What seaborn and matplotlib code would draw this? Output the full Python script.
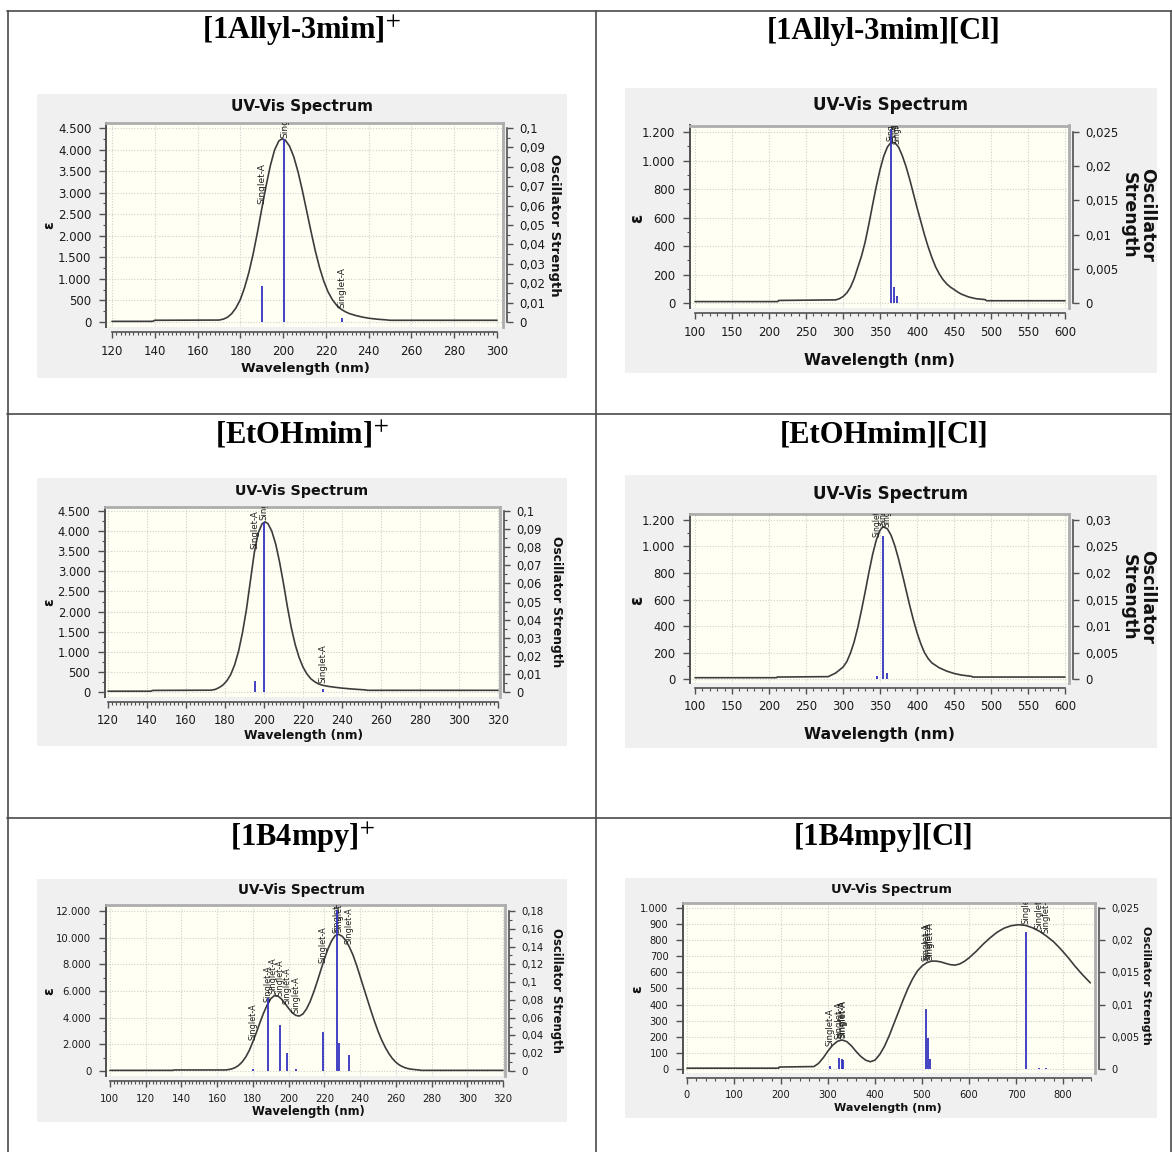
import numpy as np
import seaborn as sns
import matplotlib.pyplot as plt
from matplotlib import font_manager
from matplotlib.patches import Rectangle
from matplotlib.lines import Line2D
from matplotlib.ticker import FixedLocator, FuncFormatter, NullLocator

sns.set_theme(style='white')
plt.rcParams['font.family'] = ['DejaVu Sans']
plt.rcParams['mathtext.fontset'] = 'stix'

W, H = 1172, 1152

# ---------------- data ----------------
# [1Allyl-3mim]+
allyl_cat_wl = [120, 139, 140, 170, 172, 174, 176, 178, 180, 182, 184, 186, 188, 190, 192, 194, 196,
                198, 199.5, 201, 203, 205, 207, 209, 211, 213, 215, 217, 219, 221, 223, 225, 227,
                229, 231, 234, 237, 240, 244, 248, 250, 300]
allyl_cat_eps = [15, 15, 40, 45, 65, 110, 195, 330, 520, 800, 1150, 1580, 2080, 2620, 3150, 3620, 3990,
                 4200, 4250, 4220, 4080, 3830, 3480, 3050, 2580, 2110, 1660, 1270, 950, 700, 520, 390, 300,
                 240, 195, 150, 115, 88, 65, 50, 40, 40]
allyl_cat_stick_wl = [190.3, 200.6, 227.6]
allyl_cat_stick_f = [0.0188, 0.0943, 0.0022]

# [1Allyl-3mim][Cl]
allyl_cl_wl = [100, 212, 213, 290, 295, 300, 305, 310, 315, 320, 325, 330, 335, 340, 345, 350, 355,
               360, 365, 370, 375, 380, 385, 390, 395, 400, 405, 410, 415, 420, 425, 430, 435, 440,
               445, 450, 455, 460, 470, 480, 492, 494, 600]
allyl_cl_eps = [10, 10, 18, 22, 30, 45, 70, 110, 170, 250, 330, 430, 555, 690, 820, 935, 1030,
                1095, 1128, 1125, 1095, 1035, 960, 870, 770, 670, 575, 480, 395, 320, 255, 205, 165, 135,
                112, 95, 77, 62, 42, 30, 24, 16, 16]
allyl_cl_stick_wl = [364.5, 368.7, 373.6]
allyl_cl_stick_f = [0.0254, 0.0024, 0.001]

# [EtOHmim]+
etoh_cat_wl = [120, 142, 143, 173, 175, 177, 179, 181, 183, 185, 187, 189, 191, 193, 195, 197, 199,
               200.5, 202, 204, 206, 208, 210, 212, 214, 216, 218, 220, 222, 224, 226, 228, 230, 233,
               236, 240, 246, 252, 253, 320]
etoh_cat_eps = [20, 20, 40, 45, 65, 110, 175, 280, 440, 680, 1020, 1480, 2050, 2750, 3450, 3950, 4180,
                4230, 4190, 4000, 3680, 3230, 2700, 2120, 1600, 1180, 860, 620, 450, 330, 255, 200, 168, 140,
                120, 97, 72, 52, 42, 42]
etoh_cat_stick_wl = [195.2, 200.0, 230.1]
etoh_cat_stick_f = [0.0061, 0.0939, 0.0017]

# [EtOHmim][Cl]
etoh_cl_wl = [100, 210, 211, 280, 290, 300, 305, 310, 315, 320, 325, 330, 335, 340, 345, 350, 354,
              360, 365, 370, 375, 380, 385, 390, 395, 400, 405, 410, 415, 420, 430, 440, 450, 460,
              474, 475, 600]
etoh_cl_eps = [10, 10, 15, 18, 45, 90, 130, 195, 280, 390, 520, 660, 805, 940, 1050, 1122, 1150,
               1133, 1084, 1006, 907, 795, 676, 558, 448, 350, 268, 200, 155, 122, 85, 60, 42, 30,
               20, 15, 15]
etoh_cl_stick_wl = [345.5, 354.0, 360.0]
etoh_cl_stick_f = [0.0005, 0.0269, 0.00106]

# [1B4mpy]+
b4_cat_wl = [100, 135, 136, 165, 168, 170, 172, 174, 176, 178, 180, 182, 184, 186, 188, 190, 192, 194,
             196, 198, 200, 202, 204, 206, 208, 210, 212, 214, 216, 218, 220, 222, 224, 226, 228, 230,
             232, 234, 236, 238, 240, 242, 244, 246, 248, 250, 252, 254, 256, 258, 260, 262, 264, 266,
             268, 271, 273, 274, 320]
b4_cat_eps = [50, 50, 80, 80, 150, 250, 420, 680, 1050, 1550, 2200, 2900, 3650, 4350, 4950, 5420, 5650,
              5620, 5400, 5060, 4700, 4380, 4170, 4120, 4280, 4650, 5200, 5900, 6700, 7550, 8400, 9150,
              9750, 10150, 10250, 10100, 9780, 9300, 8700, 7950, 7100, 6250, 5400, 4550, 3750, 3000,
              2350, 1800, 1330, 950, 660, 450, 310, 210, 150, 100, 80, 50, 50]
b4_cat_stick_wl = [179.9, 188.4, 191.4, 195.4, 199.0, 204.3, 219.0, 227.3, 228.0, 233.6]
b4_cat_stick_f = [0.0019, 0.0818, 0.0005, 0.0515, 0.0205, 0.0019, 0.0441, 0.181, 0.031, 0.0179]

# [1B4mpy][Cl]
b4_cl_wl = [0, 195, 196, 270, 280, 290, 300, 310, 320, 330, 340, 350, 360, 370, 380, 390, 400, 410,
            420, 430, 440, 450, 460, 470, 480, 490, 500, 510, 520, 530, 540, 550, 560, 570, 580, 590,
            600, 615, 630, 645, 660, 675, 690, 705, 720, 735, 750, 765, 780, 795, 810, 825, 840, 858]
b4_cl_eps = [5, 5, 12, 15, 35, 70, 112, 148, 172, 180, 170, 143, 108, 77, 55, 45, 55, 90,
             140, 205, 280, 355, 430, 500, 560, 608, 640, 660, 670, 670, 665, 656, 648, 645, 652, 668,
             690, 730, 775, 815, 850, 875, 890, 896, 892, 877, 855, 825, 790, 745, 695, 640, 590, 535]
b4_cl_stick_wl = [304.4, 324.4, 329.6, 331.9, 508.9, 513.3, 517.0, 722.2, 748.0, 763.0]
b4_cl_stick_f = [0.0004, 0.00165, 0.0015, 0.0014, 0.00928, 0.00474, 0.0015, 0.0212, 0.0002, 0.0002]

cell_titles = [r'[1Allyl-3mim]$^{+}$', '[1Allyl-3mim][Cl]',
               r'[EtOHmim]$^{+}$', '[EtOHmim][Cl]',
               r'[1B4mpy]$^{+}$', '[1B4mpy][Cl]']

# ---------------- fonts ----------------
names = {f.name for f in font_manager.fontManager.ttflist}
if 'Liberation Sans Narrow' in names:
    NARROW, nk = 'Liberation Sans Narrow', 1.0
else:
    NARROW, nk = 'DejaVu Sans', 0.8
REG = 'DejaVu Sans'

sans = dict(font=REG, title=11, tick=8.5, xlab=9.5, rlab=9.5, eps=10, small=6.5)
narrow = dict(font=NARROW, title=15 * nk, tick=10.5 * nk, xlab=14 * nk, rlab=12.5, eps=12, small=5.5)

panels = [
    dict(wl=allyl_cat_wl, eps=allyl_cat_eps, swl=allyl_cat_stick_wl, sf=allyl_cat_stick_f,
         gray=(37, 94, 567, 378), area=(106, 122.5, 503, 327), xlim=(117.2, 302.8), ylim=(-116, 4628),
         xt=(120, 300, 20, 2), yt=(4500, 500, 250), ft=(0.1, 0.01, 0.005),
         title_y=107, xlab=(305, 368), epsl=(49, 225), rl=(555, 225), rtxt='Oscillator Strength',
         fs=sans),
    dict(wl=allyl_cl_wl, eps=allyl_cl_eps, swl=allyl_cl_stick_wl, sf=allyl_cl_stick_f,
         gray=(625, 88, 1157, 373), area=(690, 125.5, 1069, 308), xlim=(93.2, 605.4), ylim=(-35, 1245.6),
         xt=(100, 600, 50, 10), yt=(1200, 200, 100), ft=(0.025, 0.005, None),
         title_y=105, xlab=(880, 360), epsl=(637, 218), rl=(1138, 215), rtxt='Oscillator\nStrength',
         fs=narrow),
    dict(wl=etoh_cat_wl, eps=etoh_cat_eps, swl=etoh_cat_stick_wl, sf=etoh_cat_stick_f,
         gray=(37, 478, 567, 746), area=(105, 507, 500, 697), xlim=(118.5, 321), ylim=(-124, 4600),
         xt=(120, 320, 20, 2), yt=(4500, 500, 250), ft=(0.1, 0.01, 0.005),
         title_y=491, xlab=(304, 736), epsl=(49, 602), rl=(556, 602), rtxt='Oscillator Strength',
         fs=dict(sans, title=10.3, tick=8.3, xlab=8.8, rlab=8.8, small=6.2)),
    dict(wl=etoh_cl_wl, eps=etoh_cl_eps, swl=etoh_cl_stick_wl, sf=etoh_cl_stick_f,
         gray=(625, 475, 1157, 748), area=(690, 513.5, 1069, 683), xlim=(93.2, 605.4), ylim=(-30, 1249),
         xt=(100, 600, 50, 10), yt=(1200, 200, 100), ft=(0.03, 0.005, None),
         title_y=494, xlab=(880, 734), epsl=(637, 600), rl=(1138, 597), rtxt='Oscillator\nStrength',
         fs=narrow),
    dict(wl=b4_cat_wl, eps=b4_cat_eps, swl=b4_cat_stick_wl, sf=b4_cat_stick_f,
         gray=(37, 879, 567, 1122), area=(106, 904.5, 505, 1076), xlim=(97.8, 321.1), ylim=(-373, 12484),
         xt=(100, 320, 20, 2), yt=(12000, 2000, 1000), ft=(0.18, 0.02, 0.01),
         title_y=890, xlab=(308, 1112), epsl=(49, 991), rl=(556, 990), rtxt='Oscillator Strength',
         fs=dict(sans, title=9.8, tick=7.3, xlab=8.4, rlab=8.4, small=5.9)),
    dict(wl=b4_cl_wl, eps=b4_cl_eps, swl=b4_cl_stick_wl, sf=b4_cl_stick_f,
         gray=(625, 878, 1157, 1118), area=(683, 902.5, 1095, 1073), xlim=(-8.5, 868), ylim=(-25, 1034),
         xt=(0, 860, 100, 20), yt=(1000, 100, None), ft=(0.025, 0.005, None),
         title_y=889, xlab=(888, 1108), epsl=(637, 989), rl=(1146, 985), rtxt='Oscillator Strength',
         fs=dict(sans, title=9.4, tick=7.1, xlab=8, rlab=8, small=6)),
]

DARK = '#505050'


def eps_fmt(v, pos):
    return f'{v:,.0f}'.replace(',', '.')


def f_fmt(v, pos):
    s = f'{round(v, 4):.3f}'.rstrip('0').rstrip('.')
    return s.replace('.', ',')


def fig_rect(area):
    x0, y0, x1, y1 = area
    return [x0 / W, 1 - y1 / H, (x1 - x0) / W, (y1 - y0) / H]


def ax_frac(area, px, py):
    x0, y0, x1, y1 = area
    return (px - x0) / (x1 - x0), (y1 - py) / (y1 - y0)


fig = plt.figure(figsize=(W / 100, H / 100), dpi=100, facecolor='white')
bg = fig.add_axes([0, 0, 1, 1])
bg.set_xlim(0, W)
bg.set_ylim(H, 0)
bg.axis('off')

# table frame
for (xa, ya, xb, yb) in [(7, 10.5, 1172, 10.5), (7, 413.5, 1172, 413.5), (7, 818, 1172, 818),
                         (7.5, 10.5, 7.5, 1152), (596, 10.5, 596, 1152), (1170.5, 10.5, 1170.5, 1152)]:
    bg.add_line(Line2D([xa, xb], [ya, yb], color='#4a4a4a', lw=1.2))

cell_pos = [(302, 31), (884, 31), (302, 435), (884, 435), (302, 838), (884, 838)]
for (cx, cy), t in zip(cell_pos, cell_titles):
    bg.text(cx, cy, t, ha='center', va='center', fontsize=22, fontweight='bold',
            family='Liberation Serif', color='black')

for p in panels:
    fs = p['fs']
    gx0, gy0, gx1, gy1 = p['gray']
    bg.add_patch(Rectangle((gx0, gy0), gx1 - gx0, gy1 - gy0, facecolor='#f0f0f0', edgecolor='none'))
    bg.text((gx0 + gx1) / 2, p['title_y'], 'UV-Vis Spectrum', ha='center', va='center',
            fontsize=fs['title'], fontweight='bold', family=fs['font'], color='#111111')

    ax = fig.add_axes(fig_rect(p['area']))
    ax.set_facecolor('#fffff4')
    wl = np.array(p['wl'], dtype=float)
    eps = np.array(p['eps'], dtype=float)
    sns.lineplot(x=wl, y=eps, ax=ax, color='#3c3c3c', lw=1.2, sort=False, estimator=None)
    ax.set_xlim(*p['xlim'])
    ax.set_ylim(*p['ylim'])

    # transition labels sit on the spectrum at each stick
    for w in p['swl']:
        ax.annotate('Singlet-A', (w, np.interp(w, wl, eps)), xytext=(0, 1.5),
                    textcoords='offset points', rotation=90, ha='center', va='bottom',
                    fontsize=fs['small'], color='#1e1e1e', clip_on=True, family=REG)

    # ticks / spines for the epsilon axis and the wavelength ruler
    xlo, xhi, xmaj, xmin_ = p['xt']
    ax.xaxis.set_major_locator(FixedLocator(np.arange(xlo, xhi + 0.01, xmaj)))
    ax.xaxis.set_minor_locator(FixedLocator(np.arange(xlo, xhi + 0.01, xmin_)))
    ytop, ymaj, ymin_ = p['yt']
    ax.yaxis.set_major_locator(FixedLocator(np.arange(0, ytop + 0.01, ymaj)))
    if ymin_:
        ax.yaxis.set_minor_locator(FixedLocator(np.arange(0, ytop + 0.01, ymin_)))
    else:
        ax.yaxis.set_minor_locator(NullLocator())
    ax.yaxis.set_major_formatter(FuncFormatter(eps_fmt))

    ax.grid(True, which='major', color='#d0d0d0', linestyle=(0, (1, 1.5)), linewidth=0.8)
    ax.set_axisbelow(True)
    for side in ['top', 'right']:
        ax.spines[side].set_color('#adadad')
        ax.spines[side].set_linewidth(2)
    ax.spines['left'].set_color(DARK)
    ax.spines['left'].set_linewidth(1.4)
    ax.spines['bottom'].set_position(('outward', 3.6))
    ax.spines['bottom'].set_bounds(xlo, xhi)
    ax.spines['bottom'].set_color(DARK)
    ax.spines['bottom'].set_linewidth(1.2)

    ax.tick_params(axis='both', which='both', direction='out', color=DARK, labelcolor='#1a1a1a')
    ax.tick_params(axis='y', which='major', left=True, right=False, length=5, width=1, pad=5.5,
                   labelsize=fs['tick'], labelfontfamily=fs['font'])
    ax.tick_params(axis='y', which='minor', left=True, right=False, length=2.5, width=0.8)
    ax.tick_params(axis='x', which='major', bottom=True, top=False, length=4, width=1, pad=5,
                   labelsize=fs['tick'], labelfontfamily=fs['font'])
    ax.tick_params(axis='x', which='minor', bottom=True, top=False, length=2, width=0.8)

    ax.set_xlabel('Wavelength (nm)', fontsize=fs['xlab'], fontweight='bold', family=fs['font'],
                  va='center', color='#111111')
    ax.xaxis.set_label_coords(*ax_frac(p['area'], *p['xlab']))
    ax.set_ylabel('ε', fontsize=fs['eps'], fontweight='bold', rotation=90, va='center',
                  color='#111111', family=REG)
    ax.yaxis.set_label_coords(*ax_frac(p['area'], *p['epsl']))

    # oscillator strength axis with the stick spectrum
    ax2 = ax.twinx()
    fmax, fmaj, fmin_ = p['ft']
    r = fmax / ytop
    ax2.set_ylim(p['ylim'][0] * r, p['ylim'][1] * r)
    ax2.vlines(p['swl'], 0, p['sf'], color='#3434c2', lw=1.3)
    ax2.grid(False)
    for side in ['left', 'top', 'bottom']:
        ax2.spines[side].set_visible(False)
    ax2.spines['right'].set_position(('outward', 3))
    ax2.spines['right'].set_bounds(0, fmax)
    ax2.spines['right'].set_color(DARK)
    ax2.spines['right'].set_linewidth(1.2)
    ax2.yaxis.set_major_locator(FixedLocator(np.arange(0, fmax + fmaj / 100, fmaj)))
    if fmin_:
        ax2.yaxis.set_minor_locator(FixedLocator(np.arange(0, fmax + fmaj / 100, fmin_)))
    else:
        ax2.yaxis.set_minor_locator(NullLocator())
    ax2.yaxis.set_major_formatter(FuncFormatter(f_fmt))
    ax2.tick_params(axis='y', which='major', right=True, direction='out', length=4, width=1, pad=5,
                    color=DARK, labelcolor='#1a1a1a', labelsize=fs['tick'], labelfontfamily=fs['font'])
    ax2.tick_params(axis='y', which='minor', right=True, direction='out', length=2, width=0.8, color=DARK)
    ax2.set_ylabel(p['rtxt'], rotation=-90, fontsize=fs['rlab'], fontweight='bold', va='center',
                   ha='center', multialignment='center', color='#111111', family=REG, linespacing=1.0)
    ax2.yaxis.set_label_coords(*ax_frac(p['area'], *p['rl']))

fig.savefig('out.png', dpi=100, facecolor='white')
